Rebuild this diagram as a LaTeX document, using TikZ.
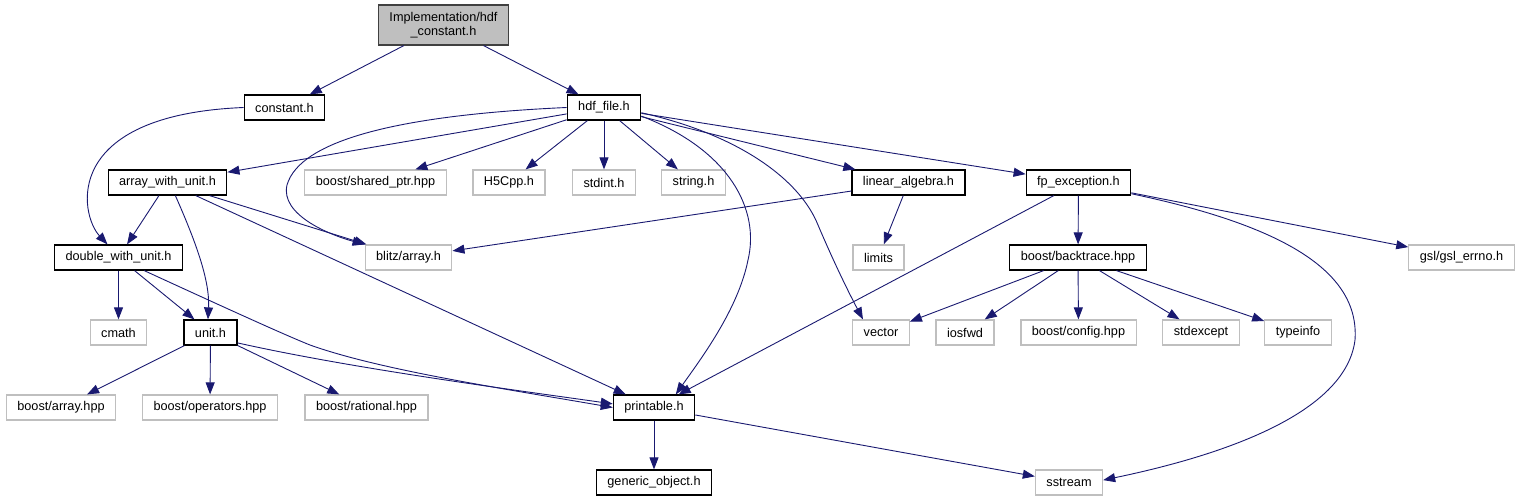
\documentclass[tikz,border=0pt]{standalone}
\usepackage{fontspec}
\setmainfont{Liberation Sans}
\usetikzlibrary{arrows.meta}

\definecolor{edgeblue}{HTML}{191970}
\definecolor{sysgray}{HTML}{BFBFBF}

\begin{document}
\begin{tikzpicture}[x=1pt, y=-1pt,
    every node/.style={font=\fontsize{12.7}{14}\selectfont, inner xsep=11pt, inner ysep=0pt, minimum height=25pt},
    filebox/.style={draw=black, line width=1.2pt, fill=white},
    sysbox/.style={draw=sysgray, line width=1.2pt, fill=white},
    rootbox/.style={draw=black!75, line width=1.2pt, fill=sysgray, align=center, minimum height=40pt},
    dep/.style={draw=edgeblue, line width=0.9pt, -{Triangle[length=12pt,width=9pt]}}]
  \useasboundingbox (0,0) rectangle (1520,500);

  % top
  \node[rootbox] (root) at (443.5,25) {Implementation/hdf\\\_constant.h};

  % first level
  \node[filebox] (constant) at (284.5,107.5) {constant.h};
  \node[filebox] (hdf) at (604,107.5) {hdf\_file.h};

  % second level
  \node[filebox] (awu) at (167.5,182.5) {array\_with\_unit.h};
  \node[sysbox] (sharedptr) at (375.5,182.5) {boost/shared\_ptr.hpp};
  \node[sysbox] (h5cpp) at (509,182.5) {H5Cpp.h};
  \node[sysbox] (stdint) at (604,182.5) {stdint.h};
  \node[sysbox] (stringh) at (693.5,182.5) {string.h};
  \node[filebox] (linalg) at (908.5,182.5) {linear\_algebra.h};
  \node[filebox] (fpexc) at (1078.5,182.5) {fp\_exception.h};

  % third level
  \node[filebox] (dwu) at (118.5,257.5) {double\_with\_unit.h};
  \node[sysbox] (blitz) at (408.5,257.5) {blitz/array.h};
  \node[sysbox] (limits) at (878.5,257.5) {limits};
  \node[filebox] (backtrace) at (1078,257.5) {boost/backtrace.hpp};
  \node[sysbox] (gsl) at (1461.5,257.5) {gsl/gsl\_errno.h};

  % fourth level
  \node[sysbox] (cmath) at (118.5,332.5) {cmath};
  \node[filebox] (unit) at (210.5,332.5) {unit.h};
  \node[sysbox] (vector) at (881,332.5) {vector};
  \node[sysbox] (iosfwd) at (965,332.5) {iosfwd};
  \node[sysbox] (config) at (1078.5,332.5) {boost/config.hpp};
  \node[sysbox] (stdexcept) at (1201,332.5) {stdexcept};
  \node[sysbox] (typeinfo) at (1298,332.5) {typeinfo};

  % fifth level
  \node[sysbox] (barray) at (61,407.5) {boost/array.hpp};
  \node[sysbox] (operators) at (210,407.5) {boost/operators.hpp};
  \node[sysbox] (rational) at (366.5,407.5) {boost/rational.hpp};
  \node[filebox] (printable) at (654,407.5) {printable.h};

  % bottom
  \node[filebox] (generic) at (654,482.5) {generic\_object.h};
  \node[sysbox] (sstream) at (1069,482.5) {sstream};

  % includes of the top file
  \draw[dep] (root) -- (constant);
  \draw[dep] (root) -- (hdf);

  % includes of constant.h
  \draw[dep] (constant.west) .. controls (60,115) and (80,215) .. (dwu.130);

  % includes of hdf_file.h
  \draw[dep] (hdf) -- (awu);
  \draw[dep] (hdf.west) .. controls (400,115) and (300,140) .. (287,185)
    .. controls (280,215) and (330,235) .. (blitz.north west);
  \draw[dep] (hdf) -- (sharedptr);
  \draw[dep] (hdf) -- (h5cpp);
  \draw[dep] (hdf) -- (stdint);
  \draw[dep] (hdf) -- (stringh);
  \draw[dep] (hdf.-13) .. controls (730,150) and (760,210) .. (748,260)
    .. controls (738,310) and (700,360) .. (printable.31);
  \draw[dep] (hdf.-8) .. controls (740,135) and (800,180) .. (818,225)
    .. controls (835,265) and (850,295) .. (vector.144);
  \draw[dep] (hdf) -- (linalg);
  \draw[dep] (hdf) -- (fpexc);

  % includes of array_with_unit.h
  \draw[dep] (awu) -- (dwu);
  \draw[dep] (awu.-59) .. controls (195,240) and (210,280) .. (unit.101);
  \draw[dep] (awu) -- (blitz);
  \draw[dep] (awu) -- (printable);

  % includes of linear_algebra.h
  \draw[dep] (linalg) -- (blitz);
  \draw[dep] (linalg) -- (limits);

  % includes of fp_exception.h
  \draw[dep] (fpexc) -- (printable);
  \draw[dep] (fpexc) -- (backtrace);
  \draw[dep] (fpexc) -- (gsl);
  \draw[dep] (fpexc.-12) .. controls (1280,225) and (1360,270) .. (1355,340)
    .. controls (1345,420) and (1200,460) .. (sstream.4);

  % includes of double_with_unit.h
  \draw[dep] (dwu) -- (cmath);
  \draw[dep] (dwu) -- (unit);
  \draw[dep] (dwu.-27) .. controls (230,310) and (285,335) .. (310,345)
    .. controls (380,370) and (500,388) .. (printable.west);

  % includes of unit.h
  \draw[dep] (unit) -- (barray);
  \draw[dep] (unit) -- (operators);
  \draw[dep] (unit) -- (rational);
  \draw[dep] (unit.-21) .. controls (350,368) and (500,388) .. (printable.175);

  % includes of boost/backtrace.hpp
  \draw[dep] (backtrace) -- (vector);
  \draw[dep] (backtrace) -- (iosfwd);
  \draw[dep] (backtrace) -- (config);
  \draw[dep] (backtrace) -- (stdexcept);
  \draw[dep] (backtrace) -- (typeinfo);

  % includes of printable.h
  \draw[dep] (printable) -- (generic);
  \draw[dep] (printable) -- (sstream);
\end{tikzpicture}
\end{document}
